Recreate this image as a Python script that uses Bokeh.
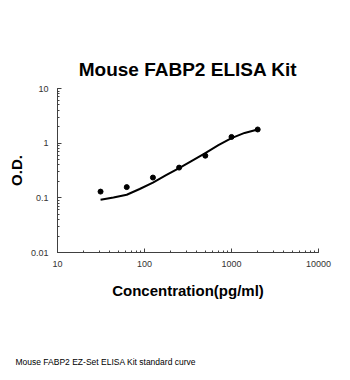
from bokeh.plotting import figure
from bokeh.models import Title, LogTicker, CustomJSTickFormatter, Range1d
from bokeh.embed import file_html
from bokeh.resources import INLINE

# standard points
conc = [31.25, 62.5, 125, 250, 500, 1000, 2000]
od = [0.13, 0.157, 0.235, 0.357, 0.59, 1.3, 1.78]
# fitted curve
curve_conc = [31.25, 44, 62.5, 88, 125, 177, 250, 354, 500, 707, 1000, 1414, 2000]
curve_od = [0.092, 0.101, 0.114, 0.145, 0.19, 0.26, 0.35, 0.48, 0.66, 0.92, 1.24, 1.54, 1.78]

title_text = "Mouse FABP2 ELISA Kit"
x_label = "Concentration(pg/ml)"
y_label = "O.D."
caption = "Mouse FABP2 EZ-Set ELISA Kit standard curve"

p = figure(width=350, height=380, x_axis_type="log", y_axis_type="log",
           x_range=Range1d(10, 10000), y_range=Range1d(0.01, 10),
           output_backend="svg", toolbar_location=None,
           min_border_left=57, min_border_right=32, min_border_top=88, min_border_bottom=125)
p.outline_line_color = None
p.grid.visible = False
p.background_fill_color = "white"
p.border_fill_color = "white"

p.line(curve_conc, curve_od, line_color="black", line_width=2, line_join="round")
p.scatter(conc, od, size=5, color="black")

fmt = CustomJSTickFormatter(code="return Number(tick.toPrecision(3)).toString();")
for ax in (p.xaxis[0], p.yaxis[0]):
    ax.ticker = LogTicker(num_minor_ticks=10)
    ax.formatter = fmt
    ax.axis_line_color = "#404040"
    ax.major_tick_line_color = "#404040"
    ax.minor_tick_line_color = "#404040"
    ax.major_tick_in = 4
    ax.major_tick_out = 0
    ax.minor_tick_in = 2
    ax.minor_tick_out = 0
    ax.major_label_text_font = "Liberation Sans"
    ax.major_label_text_font_size = "9px"
    ax.major_label_text_color = "#333333"
    ax.axis_label_text_font = "Liberation Sans"
    ax.axis_label_text_font_style = "bold"
    ax.axis_label_text_color = "black"

p.xaxis.axis_label = x_label
p.xaxis.axis_label_text_font_size = "15px"
p.xaxis.axis_label_standoff = 12
p.xaxis.major_label_standoff = 8
p.yaxis.axis_label = y_label
p.yaxis.axis_label_text_font_size = "15px"
p.yaxis.axis_label_standoff = 3
p.yaxis.major_label_standoff = 9

p.title = Title(text=title_text, align="center", text_font="Liberation Sans",
                text_font_style="bold", text_font_size="19px", text_color="black",
                standoff=18)
# leading blank lines push the caption toward the bottom of its panel
p.add_layout(Title(text="\n\n\n\n" + caption, align="left", offset=-42, text_font="Liberation Sans",
                   text_font_style="normal", text_font_size="8.5px", text_color="black",
                   standoff=27), "below")

open("out.html", "w").write(file_html(p, INLINE))
